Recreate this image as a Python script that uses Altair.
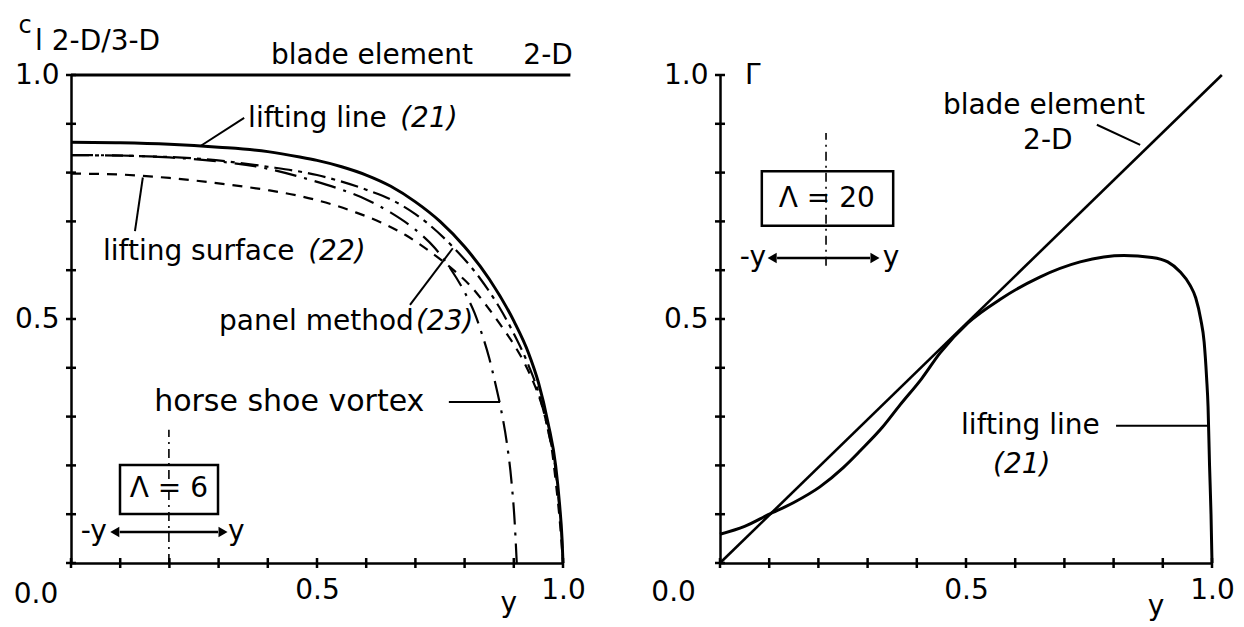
import altair as alt
import pandas as pd

FONT = "DejaVu Sans"

# ---------------- data ----------------
TICKS = [0.0, 0.1, 0.2, 0.3, 0.4, 0.5, 0.6, 0.7, 0.8, 0.9, 1.0]
TICK_LABELS = [0.5, 1.0]

# left panel  (c_l 2-D / 3-D over y,  Lambda = 6)
blade2d_x = [0.0, 1.015]
blade2d_y = [1.0, 1.0]

lifting_line_x = [0.0, 0.1, 0.2, 0.3, 0.4, 0.465, 0.5, 0.55, 0.6, 0.65, 0.7, 0.75, 0.8,
                  0.85, 0.9, 0.93, 0.95, 0.97, 0.985, 0.993, 0.998, 1.0]
lifting_line_y = [0.862, 0.861, 0.858, 0.852, 0.843, 0.832, 0.825, 0.812, 0.795, 0.772, 0.740,
                  0.700, 0.648, 0.582, 0.496, 0.43, 0.37, 0.285, 0.2, 0.12, 0.05, 0.0]

panel_x = [0.0, 0.2, 0.4, 0.5, 0.6, 0.65, 0.7, 0.776, 0.83, 0.87, 0.9, 0.93, 0.95, 0.97,
           0.985, 0.993, 0.998, 1.0]
panel_y = [0.836, 0.832, 0.812, 0.795, 0.765, 0.745, 0.715, 0.648, 0.585, 0.525, 0.47, 0.405,
           0.35, 0.27, 0.19, 0.11, 0.045, 0.0]

horseshoe_x = [0.0, 0.1, 0.2, 0.3, 0.4, 0.48, 0.55, 0.6, 0.65, 0.7, 0.74, 0.77, 0.8, 0.82,
               0.835, 0.85, 0.862, 0.874, 0.886, 0.895, 0.902, 0.906]
horseshoe_y = [0.836, 0.835, 0.831, 0.823, 0.808, 0.787, 0.765, 0.745, 0.718, 0.683, 0.645,
               0.605, 0.555, 0.513, 0.47, 0.42, 0.37, 0.315, 0.245, 0.17, 0.08, 0.0]

surface_x = [0.0, 0.1, 0.2, 0.3, 0.4, 0.465, 0.53, 0.58, 0.63, 0.68, 0.73, 0.78, 0.81, 0.85,
             0.88, 0.9, 0.92, 0.94, 0.955, 0.967, 0.977, 0.986, 0.994, 1.0]
surface_y = [0.798, 0.796, 0.789, 0.778, 0.764, 0.752, 0.735, 0.718, 0.698, 0.672, 0.638,
             0.598, 0.57, 0.52, 0.478, 0.448, 0.413, 0.37, 0.33, 0.285, 0.235, 0.16, 0.08, 0.0]

# right panel  (Gamma over y,  Lambda = 20)
blade_r_x = [0.0, 1.02]
blade_r_y = [0.0, 1.0]

ll_r_x = [0.0, 0.05, 0.098, 0.15, 0.203, 0.25, 0.285, 0.33, 0.366, 0.41, 0.447, 0.504, 0.569,
          0.65, 0.732, 0.78, 0.821, 0.878, 0.91, 0.935, 0.955, 0.967, 0.977, 0.984, 0.989,
          0.992, 0.995, 0.998, 1.0]
ll_r_y = [0.059, 0.075, 0.099, 0.124, 0.156, 0.195, 0.23, 0.278, 0.324, 0.378, 0.43, 0.492,
          0.54, 0.586, 0.617, 0.627, 0.630, 0.626, 0.617, 0.597, 0.57, 0.543, 0.50, 0.453,
          0.38, 0.32, 0.2, 0.1, 0.0]

# texts
left_labels = ["c", "l 2-D/3-D", "blade element", "2-D", "lifting line", "(21)",
               "lifting surface", "(22)", "panel method", "(23)", "horse shoe vortex",
               "Λ = 6", "-y", "y", "0.0", "y"]
right_labels = ["Γ", "blade element", "2-D", "Λ = 20", "-y", "y", "lifting line", "(21)",
                "0.0", "y"]

# ---------------- chart helpers ----------------
SC = alt.Scale(domain=[0, 1], nice=False, zero=False)
XAX = alt.Axis(values=TICK_LABELS, format=".1f", labelPadding=13, labelFlush=False,
               labelOverlap=False, title=None)
YAX = alt.Axis(values=TICK_LABELS, format=".1f", labelPadding=12, labelFlush=False,
               labelOverlap=False, title=None)


def X(f="x"):
    return alt.X(f"{f}:Q", scale=SC, axis=XAX)


def Y(f="y"):
    return alt.Y(f"{f}:Q", scale=SC, axis=YAX)


def series(xs, ys):
    return pd.DataFrame({"x": xs, "y": ys, "o": list(range(len(xs)))})


def line(xs, ys, width=3.0, dash=None, smooth=True):
    kw = dict(color="black", strokeWidth=width, strokeCap="butt", strokeJoin="round")
    if smooth:
        kw["interpolate"] = "monotone"
    if dash:
        kw["strokeDash"] = dash
    return alt.Chart(series(xs, ys)).mark_line(**kw).encode(x=X(), y=Y(), order="o:Q")


def texts(items, labels, align="left", italic=False, size=28):
    df = pd.DataFrame({"t": [labels[i] for i, _, _ in items],
                       "x": [p for _, p, _ in items],
                       "y": [q for _, _, q in items]})
    kw = dict(font=FONT, fontSize=size, color="black", align=align, baseline="middle")
    if italic:
        kw["fontStyle"] = "italic"
    return alt.Chart(df).mark_text(**kw).encode(x=X(), y=Y(), text="t:N")


def rules(segs, width=2.0, dash=None):
    df = pd.DataFrame(segs, columns=["x", "y", "x2", "y2"])
    kw = dict(color="black", strokeWidth=width)
    if dash:
        kw["strokeDash"] = dash
    return alt.Chart(df).mark_rule(**kw).encode(x=X(), y=Y(), x2="x2:Q", y2="y2:Q")


def axis_ticks():
    xt = alt.Chart(pd.DataFrame({"x": TICKS, "y": [0.0] * len(TICKS)})).mark_tick(
        orient="vertical", size=10, thickness=2.5, color="black", opacity=1
    ).encode(x=X(), y=Y())
    yt = alt.Chart(pd.DataFrame({"x": [0.0] * len(TICKS), "y": TICKS})).mark_tick(
        orient="horizontal", size=10, thickness=2.5, color="black", opacity=1
    ).encode(x=X(), y=Y())
    return [xt, yt]


def box(x1, x2, y1, y2):
    df = pd.DataFrame({"x": [x1], "x2": [x2], "y": [y1], "y2": [y2]})
    return alt.Chart(df).mark_rect(fill="white", stroke="black", strokeWidth=2.5).encode(
        x=X(), x2="x2:Q", y=Y(), y2="y2:Q")


def arrow(x1, x2, yv):
    r = rules([(x1 + 0.01, yv, x2 - 0.01, yv)], width=2.5)
    df = pd.DataFrame({"x": [x1, x2], "y": [yv, yv], "s": ["triangle-left", "triangle-right"]})
    heads = alt.Chart(df).mark_point(filled=True, size=110, color="black", opacity=1).encode(
        x=X(), y=Y(), shape=alt.Shape("s:N", scale=None, legend=None))
    return [r, heads]


# ---------------- left panel ----------------
left_layers = [
    line(blade2d_x, blade2d_y, 3.0, smooth=False),
    line(lifting_line_x, lifting_line_y, 3.0),
    line(panel_x, panel_y, 2.2, dash=[18, 6, 4, 6]),
    line(horseshoe_x, horseshoe_y, 2.2, dash=[22, 8, 3, 8]),
    line(surface_x, surface_y, 2.2, dash=[10, 8]),
    *axis_ticks(),
    box(0.0996, 0.2988, 0.1004, 0.2008),
    rules([(0.199, 0.0, 0.199, 0.273)], width=1.6, dash=[9, 5, 2, 5]),
    *arrow(0.089, 0.309, 0.0635),
    rules([(0.264, 0.855, 0.352, 0.912), (0.146, 0.79, 0.13, 0.68),
           (0.689, 0.529, 0.776, 0.645), (0.768, 0.33, 0.872, 0.33)], width=2.0),
    texts([(0, -0.0935, 1.10)], left_labels, align="center", size=24),
    texts([(1, -0.073, 1.068), (2, 0.4065, 1.039), (4, 0.36, 0.91), (6, 0.065, 0.637),
           (8, 0.301, 0.494), (13, 0.319, 0.0635)], left_labels),
    texts([(10, 0.169, 0.33)], left_labels, size=30),
    texts([(5, 0.669, 0.91), (7, 0.482, 0.637), (9, 0.701, 0.494)], left_labels, italic=True),
    texts([(3, 1.020, 1.039), (12, 0.073, 0.0635), (14, -0.026, -0.066)], left_labels,
          align="right"),
    texts([(11, 0.199, 0.152), (15, 0.89, -0.085)], left_labels, align="center"),
]
left = alt.layer(*left_layers).properties(width=492, height=488)

# ---------------- right panel ----------------
right_layers = [
    line(blade_r_x, blade_r_y, 2.6, smooth=False),
    line(ll_r_x, ll_r_y, 3.0),
    *axis_ticks(),
    box(0.085, 0.352, 0.691, 0.803),
    rules([(0.2155, 0.609, 0.2155, 0.881)], width=1.6, dash=[9, 5, 2, 5]),
    *arrow(0.106, 0.315, 0.625),
    rules([(0.766, 0.898, 0.854, 0.857), (0.805, 0.281, 0.992, 0.281)], width=2.0),
    texts([(0, 0.051, 0.998), (1, 0.453, 0.936), (2, 0.616, 0.865), (5, 0.331, 0.625),
           (6, 0.49, 0.281)], right_labels),
    texts([(7, 0.555, 0.20)], right_labels, italic=True),
    texts([(4, 0.0935, 0.625), (8, -0.049, -0.062)], right_labels, align="right"),
    texts([(3, 0.217, 0.746), (9, 0.886, -0.09)], right_labels, align="center"),
]
right = alt.layer(*right_layers).properties(width=492, height=488)

chart = alt.hconcat(left, right, spacing=157, bounds="flush").properties(
    padding={"left": 5, "top": 6, "right": 0, "bottom": 0},
    background="white",
).configure_view(stroke=None).configure_axis(
    domainColor="black", domainWidth=2.5, labelFont=FONT, labelFontSize=28,
    labelColor="black", ticks=False, grid=False,
)

chart.save("out.html", embed_options={"renderer": "svg", "actions": False})
